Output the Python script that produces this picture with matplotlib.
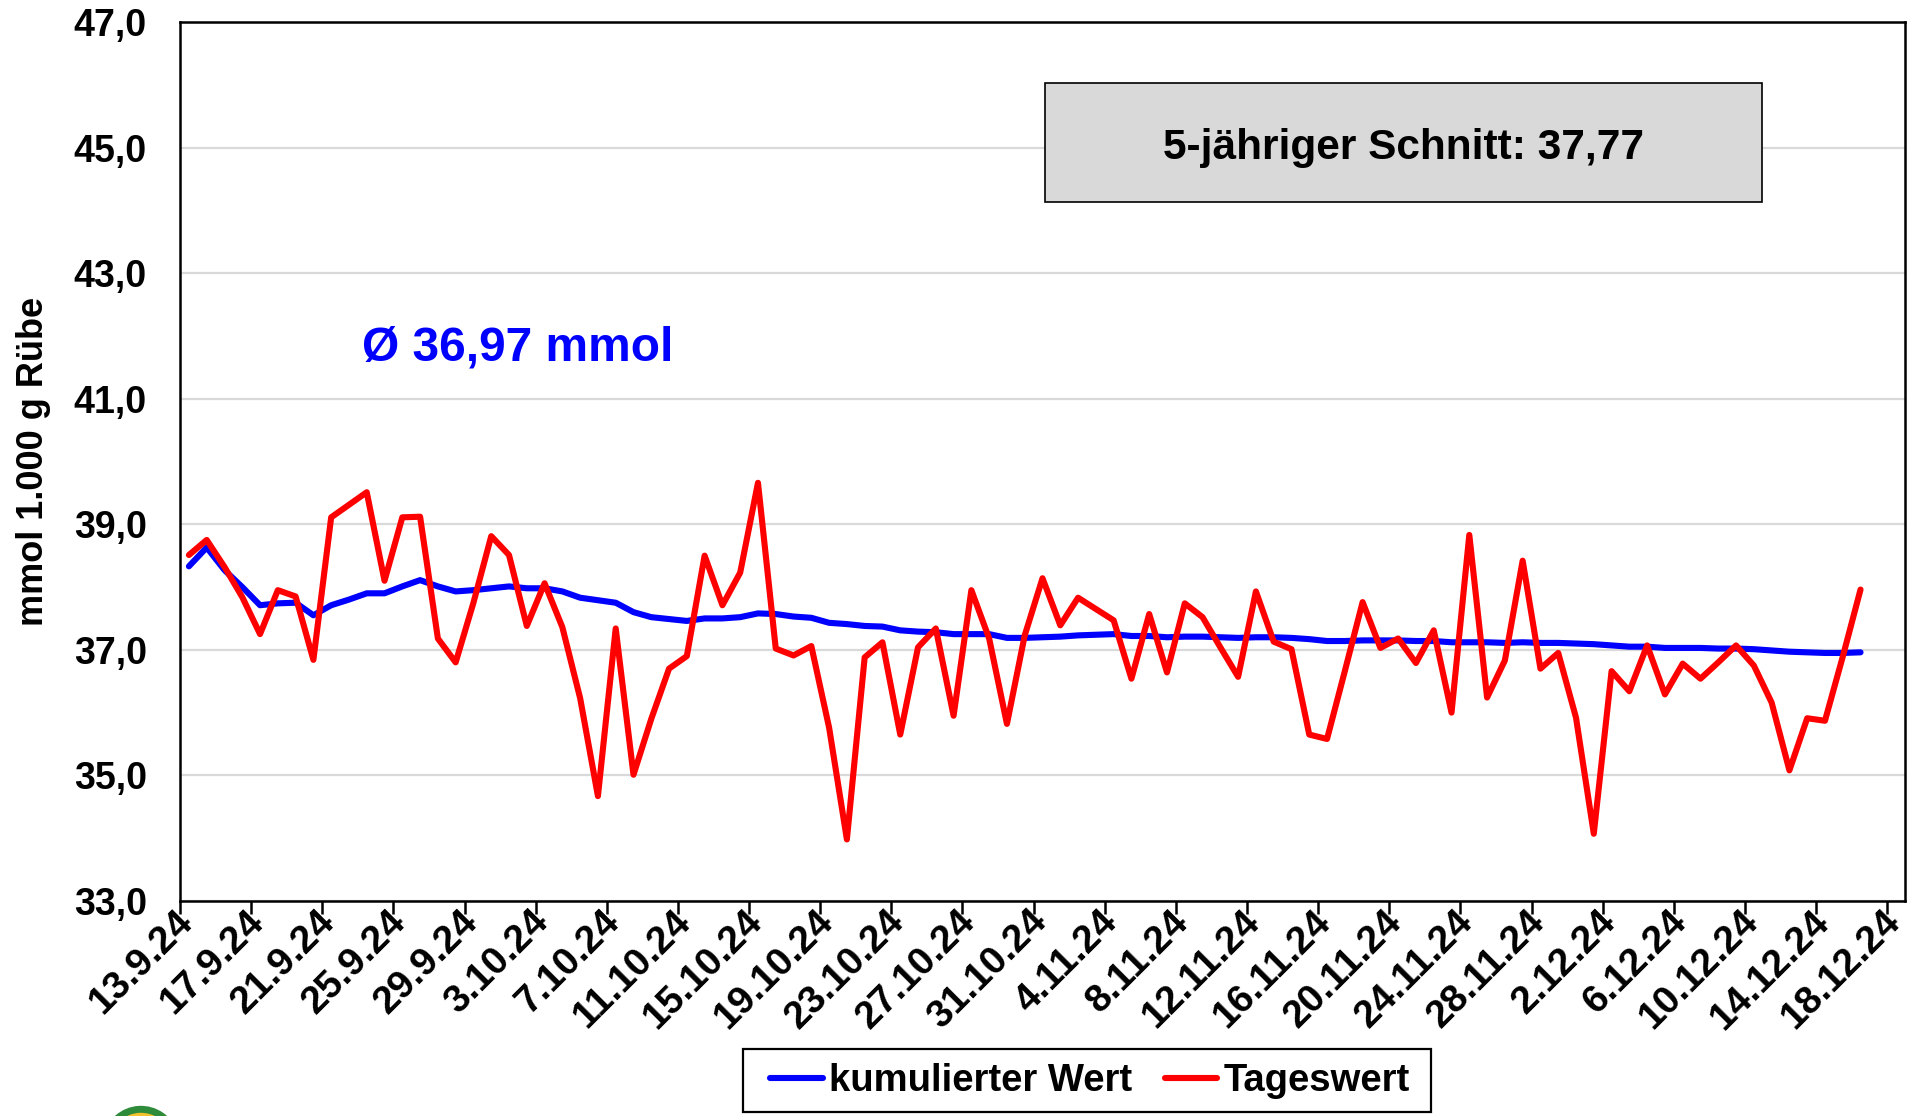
import matplotlib
matplotlib.use("Agg")
import matplotlib.pyplot as plt
import matplotlib.patches as mpatches
import matplotlib.transforms as mtransforms
import numpy as np

plt.rcParams["font.family"] = ["Liberation Sans", "DejaVu Sans"]
plt.rcParams["font.weight"] = "bold"

# daily values from 13.9.24 to 16.12.24
tageswert = [
    38.51, 38.75, 38.32, 37.84, 37.25, 37.95, 37.85, 36.84, 39.11, 39.31,
    39.51, 38.10, 39.11, 39.12, 37.18, 36.80, 37.75, 38.81, 38.51, 37.38,
    38.06, 37.36, 36.23, 34.67, 37.34, 35.01, 35.90, 36.70, 36.90, 38.50,
    37.71, 38.23, 39.66, 37.02, 36.91, 37.06, 35.76, 33.98, 36.88, 37.12,
    35.65, 37.04, 37.34, 35.95, 37.95, 37.18, 35.82, 37.23, 38.14, 37.39,
    37.83, 37.65, 37.47, 36.54, 37.57, 36.64, 37.74, 37.52, 37.04, 36.57,
    37.93, 37.13, 37.01, 35.65, 35.58, 36.66, 37.76, 37.03, 37.18, 36.79,
    37.31, 36.00, 38.83, 36.24, 36.83, 38.42, 36.70, 36.95, 35.92, 34.07,
    36.66, 36.34, 37.07, 36.29, 36.78, 36.54, 36.80, 37.07, 36.75, 36.16,
    35.08, 35.91, 35.87, 36.89, 37.96,
]
kumuliert = [
    38.33, 38.63, 38.27, 38.00, 37.71, 37.74, 37.75, 37.55, 37.71, 37.80,
    37.90, 37.90, 38.01, 38.11, 38.01, 37.93, 37.95, 37.98, 38.01, 37.98,
    37.98, 37.93, 37.83, 37.79, 37.75, 37.60, 37.52, 37.49, 37.46, 37.50,
    37.50, 37.52, 37.58, 37.57, 37.53, 37.51, 37.43, 37.41, 37.38, 37.37,
    37.31, 37.29, 37.28, 37.25, 37.25, 37.25, 37.19, 37.19, 37.20, 37.21,
    37.23, 37.24, 37.25, 37.22, 37.22, 37.20, 37.21, 37.21, 37.20, 37.19,
    37.20, 37.20, 37.19, 37.17, 37.14, 37.14, 37.15, 37.15, 37.15, 37.14,
    37.14, 37.12, 37.12, 37.12, 37.11, 37.12, 37.11, 37.11, 37.10, 37.09,
    37.07, 37.05, 37.05, 37.03, 37.03, 37.03, 37.02, 37.02, 37.01, 36.99,
    36.97, 36.96, 36.95, 36.95, 36.96,
]
tick_labels = [
    "13.9.24", "17.9.24", "21.9.24", "25.9.24", "29.9.24", "3.10.24",
    "7.10.24", "11.10.24", "15.10.24", "19.10.24", "23.10.24", "27.10.24",
    "31.10.24", "4.11.24", "8.11.24", "12.11.24", "16.11.24", "20.11.24",
    "24.11.24", "28.11.24", "2.12.24", "6.12.24", "10.12.24", "14.12.24",
    "18.12.24",
]
n_days_axis = 97
schnitt_text = "5-jähriger Schnitt: 37,77"
mittel_text = "Ø 36,97 mmol"

fig = plt.figure(figsize=(19.09, 11.16), dpi=100)
ax = fig.add_axes([0.0943, 0.1927, 0.9036, 0.7876])

x = np.arange(len(tageswert)) + 0.5
ax.plot(x, kumuliert, color="#0000ff", lw=4.4, label="kumulierter Wert",
        solid_joinstyle="round", solid_capstyle="round", zorder=3)
ax.plot(x, tageswert, color="#ff0000", lw=4.4, label="Tageswert",
        solid_joinstyle="round", solid_capstyle="round", zorder=4)

ax.set_xlim(0, n_days_axis)
ax.set_ylim(33, 47)
ax.set_yticks(np.arange(33, 47.1, 2))
ax.set_yticklabels([f"{v:.1f}".replace(".", ",") for v in np.arange(33, 47.1, 2)])
ax.yaxis.grid(True, color="#d9d9d9", lw=1.6)
ax.set_axisbelow(True)

ticks = np.arange(0, 4 * len(tick_labels), 4)
ax.set_xticks(ticks)
ax.set_xticklabels(tick_labels, rotation=45, ha="right", va="top")

ax.tick_params(axis="x", direction="out", length=9, width=1.8, labelsize=28, pad=0)
ax.tick_params(axis="y", length=0, labelsize=27, pad=24)
for s in ax.spines.values():
    s.set_linewidth(1.8)
    s.set_color("black")

# shift the rotated date labels so that they end right of the tick
offset = mtransforms.ScaledTranslation(0.2, 0.1, fig.dpi_scale_trans)
for lab in ax.get_xticklabels():
    lab.set_transform(lab.get_transform() + offset)

ax.set_ylabel("mmol 1.000 g Rübe", fontsize=26, fontweight="bold")
ax.yaxis.set_label_coords(-0.075, 0.5)

# box with 5-year average
ax.add_patch(mpatches.Rectangle((0.5014, 0.795), 0.4156, 0.1356, transform=ax.transAxes,
                                facecolor="#d9d9d9", edgecolor="black", lw=1.2, zorder=5))
ax.text(0.709, 0.857, schnitt_text, transform=ax.transAxes, ha="center", va="center",
        fontsize=30.5, fontweight="bold", zorder=6)

ax.text(0.196, 0.629, mittel_text, transform=ax.transAxes, ha="center", va="center",
        fontsize=34.5, fontweight="bold", color="#0000ff")

# legend without its own frame, frame drawn as rectangle
leg = fig.legend(loc="center", bbox_to_anchor=(0.571, 0.0314), ncol=2,
                 fontsize=27.5, frameon=False,
                 handlelength=1.37, handletextpad=0.16, columnspacing=0.87,
                 borderpad=0, borderaxespad=0)
for t in leg.get_texts():
    t.set_fontweight("bold")
fig.add_artist(mpatches.Rectangle((0.3892, 0.0036), 0.3604, 0.0565, transform=fig.transFigure,
                                  facecolor="none", edgecolor="black", lw=1.6))

# cut-off logo at the bottom left
fig.add_artist(mpatches.Ellipse((139 / 1909, -0.02), 0.03, 0.05, transform=fig.transFigure,
                                facecolor="#f2c12e", edgecolor="none"))
fig.add_artist(mpatches.Arc((141 / 1909, -0.024), 0.036, 0.06, theta1=25, theta2=165,
                            transform=fig.transFigure, color="#2e8b3a", lw=5))

fig.savefig("out.png", dpi=100)
